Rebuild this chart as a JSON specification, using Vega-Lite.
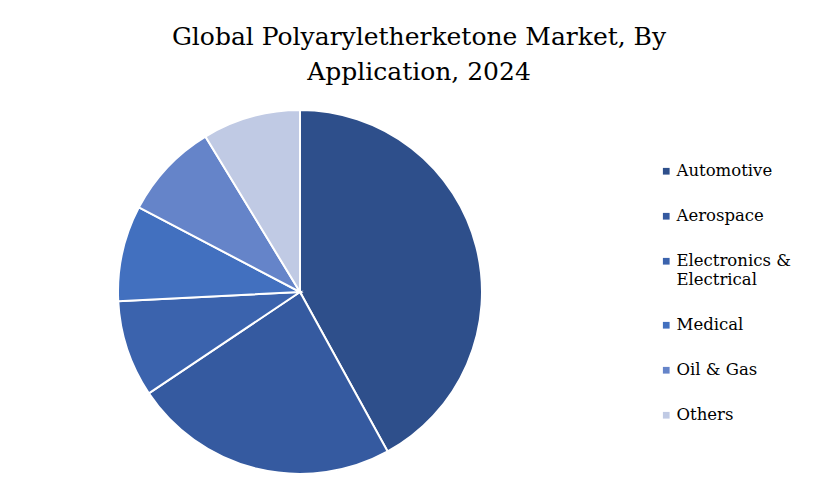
{
  "$schema": "https://vega.github.io/schema/vega-lite/v6.json",
  "width": 580,
  "height": 384,
  "autosize": "none",
  "padding": {"left": 10, "top": 100, "right": 248, "bottom": 15},
  "background": "white",
  "title": {
    "text": ["Global Polyaryletherketone Market, By", "Application, 2024"],
    "font": "DejaVu Serif",
    "fontSize": 25,
    "fontWeight": "normal",
    "lineHeight": 35,
    "color": "#000000",
    "anchor": "middle",
    "dx": 119,
    "offset": 15
  },
  "data": {
    "values": [
      {"application": "Automotive", "share": 42.0, "rank": 1},
      {"application": "Aerospace", "share": 23.6, "rank": 2},
      {"application": "Electronics & Electrical", "share": 8.6, "rank": 3},
      {"application": "Medical", "share": 8.5, "rank": 4},
      {"application": "Oil & Gas", "share": 8.6, "rank": 5},
      {"application": "Others", "share": 8.7, "rank": 6}
    ]
  },
  "mark": {"type": "arc", "outerRadius": 182, "stroke": "white", "strokeWidth": 2},
  "encoding": {
    "theta": {"field": "share", "type": "quantitative", "stack": true},
    "order": {"field": "rank", "type": "quantitative"},
    "color": {
      "field": "application",
      "type": "nominal",
      "sort": ["Automotive", "Aerospace", "Electronics & Electrical", "Medical", "Oil & Gas", "Others"],
      "scale": {
        "domain": ["Automotive", "Aerospace", "Electronics & Electrical", "Medical", "Oil & Gas", "Others"],
        "range": ["#2E4F8B", "#355AA0", "#3B63AD", "#4270BF", "#6584C9", "#C0CAE4"]
      },
      "legend": {
        "title": null,
        "orient": "none",
        "legendX": 648,
        "legendY": 63,
        "symbolType": "square",
        "symbolSize": 45,
        "symbolStrokeWidth": 0,
        "labelFont": "DejaVu Serif",
        "labelFontSize": 16.5,
        "labelColor": "#000000",
        "labelOffset": 2,
        "labelLimit": 200,
        "rowPadding": 28,
        "labelExpr": "datum.label == 'Electronics & Electrical' ? ['Electronics &', 'Electrical'] : datum.label"
      }
    }
  },
  "config": {
    "view": {"stroke": null}
  }
}
